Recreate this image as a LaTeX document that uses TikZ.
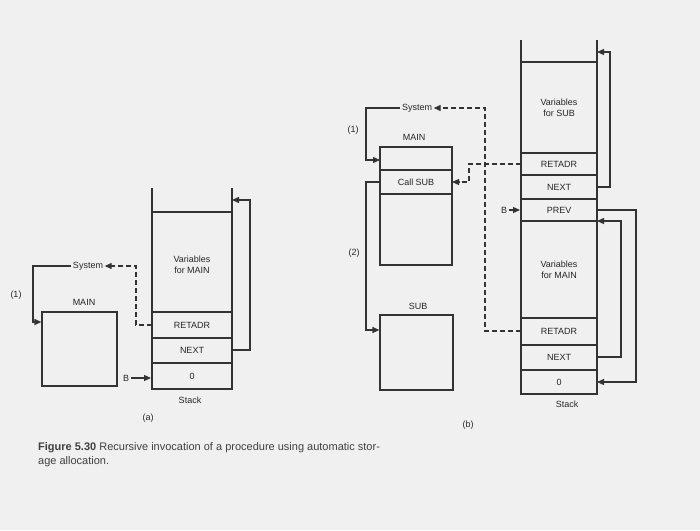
\documentclass[tikz,border=0pt]{standalone}
\usepackage{fontspec}
\setmainfont{Liberation Sans}
\usetikzlibrary{arrows.meta}
\begin{document}
\begin{tikzpicture}[x=1pt,y=-1pt,
  lbl/.style={font=\fontsize{9}{10.5}\selectfont,text=black!85,inner sep=1.5pt,align=center},
  cell/.style={draw=black!80,line width=1.2pt},
  ln/.style={draw=black!80,line width=1.2pt},
  arr/.style={ln,-{Triangle[length=7pt,width=6pt]}},
  dsh/.style={arr,dash pattern=on 5pt off 3pt}]
\fill[black!6] (0,0) rectangle (700,530);
\useasboundingbox (0,0) rectangle (700,530);
% ---------- (a) ----------
\draw[ln] (152,188) -- (152,389) -- (232,389) -- (232,188);
\draw[ln] (152,212) -- (232,212);
\node[lbl] (aVar) at (192,265) {Variables\\for MAIN};
\draw[ln] (152,312) -- (232,312);
\draw[ln] (152,338) -- (232,338);
\draw[ln] (152,363) -- (232,363);
\node[lbl] (aRet) at (192,325) {RETADR};
\node[lbl] (aNext) at (192,350) {NEXT};
\node[lbl] (aZero) at (192,376) {0};
\node[lbl] (aStack) at (190,400) {Stack};
\coordinate (aTop) at (232,200);
\draw[arr] (232,350) -| (250,200) -- (aTop);
\node[cell,minimum width=75pt,minimum height=74pt,inner sep=0pt] (aMain) at (79.5,349) {};
\node[lbl] (aMainL) at (84,302) {MAIN};
\node[lbl] (aSys) at (88,266) {System};
\draw[arr] (aSys.west) -| (33,322) -- (aMain.west |- 0,322);
\node[lbl] (a1) at (16,295) {(1)};
\draw[dsh] (152,325) -| (136,266) -- (aSys.east);
\node[lbl] (aB) at (126,378) {B};
\draw[arr] (aB.east) -- (151,378);
\node[lbl] (aCap) at (148,418) {(a)};
% ---------- (b) ----------
\node[cell,minimum width=72pt,minimum height=118pt,inner sep=0pt] (bMain) at (416,206) {};
\draw[ln] (380,170) -- (452,170);
\draw[ln] (380,194) -- (452,194);
\node[lbl] (bCall) at (416,182) {Call SUB};
\node[lbl] (bMainL) at (414,137) {MAIN};
\node[lbl] (bSys) at (417,108) {System};
\node[lbl] (b1) at (353,130) {(1)};
\draw[arr] (bSys.west) -| (366,160) -- (380,160);
\node[lbl] (b2) at (354,253) {(2)};
\node[cell,minimum width=73pt,minimum height=75pt,inner sep=0pt] (bSub) at (416.5,352.5) {};
\node[lbl] (bSubL) at (418,306) {SUB};
\draw[arr] (380,182) -| (366,330) -- (bSub.west |- 0,330);
% stack b
\draw[ln] (521,40) -- (521,394) -- (597,394) -- (597,40);
\foreach \y in {62,153,175,199,221,318,345,370}{\draw[ln] (521,\y) -- (597,\y);}
\node[lbl] (bVS) at (559,108) {Variables\\for SUB};
\node[lbl] (bR1) at (559,164) {RETADR};
\node[lbl] (bN1) at (559,187) {NEXT};
\node[lbl] (bPrev) at (559,210) {PREV};
\node[lbl] (bVM) at (559,270) {Variables\\for MAIN};
\node[lbl] (bR2) at (559,331) {RETADR};
\node[lbl] (bN2) at (559,357) {NEXT};
\node[lbl] (bZ) at (559,382) {0};
\node[lbl] (bStack) at (567,404) {Stack};
\draw[arr] (597,187) -| (610,52) -- (597,52);
\draw[arr] (597,357) -| (621,221) -- (597,221);
\draw[arr] (597,210) -| (636,382) -- (597,382);
\node[lbl] (bB) at (504,210) {B};
\draw[arr] (bB.east) -- (520,210);
\draw[dsh] (521,331) -| (485,108) -- (bSys.east);
\draw[dsh] (521,164) -| (469,182) -- (452,182);
\node[lbl] (bCap) at (468,425) {(b)};
% caption
\node[anchor=west,inner sep=0pt,font=\fontsize{11}{14}\selectfont,text=black!75,align=left] (cap) at (38,455)
 {\textbf{Figure 5.30} Recursive invocation of a procedure using automatic stor-\\age allocation.};
\end{tikzpicture}
\end{document}
